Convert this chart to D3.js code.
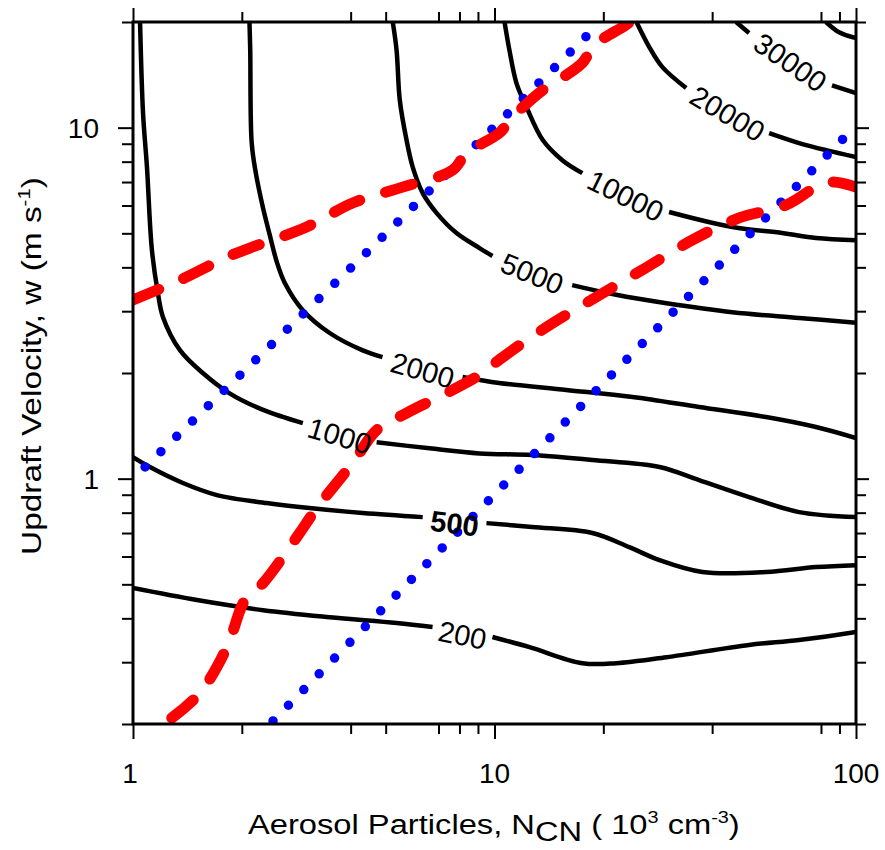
<!DOCTYPE html>
<html><head><meta charset="utf-8">
<script src="https://cdn.jsdelivr.net/npm/d3@7"></script>
<style>
body{margin:0;background:#fff}
text{font-family:"Liberation Sans",Arial,Helvetica,sans-serif;fill:#000}
</style>
</head><body>
<svg id="chart" width="885" height="850"></svg>
<script>
// ---------- data (N in 10^3 cm^-3, w in m/s) ----------
const xTickValues = [1,2,4,5,7,8,9,10,20,40,80,90,100];
const xMajorTicks = [1,10,100];
const yTickValues = [0.2,0.3,0.4,0.5,0.6,0.7,0.8,0.9,1,2,3,4,5,6,7,8,9,10,20];
const yMajorTicks = [1,10];

// contour lines; null marks the gap where the label sits
const contour200 = [[1,0.488],[1.503,0.451],[2.29,0.422],[3.50,0.403],[5.36,0.388],[6.74,0.378],null,
  [9.87,0.354],[12.5,0.331],[17.5,0.298],[21.7,0.298],[29.9,0.310],[50.6,0.336],[69.6,0.347],[100,0.366]];
const contour500 = [[1,1.152],[1.114,1.079],[1.374,0.972],[1.706,0.898],[2.345,0.852],[2.89,0.830],[4.32,0.798],[6.33,0.777],null,
  [9.50,0.747],[12.7,0.728],[18.65,0.70],[23.6,0.638],[28.6,0.586],[37.6,0.542],[56.4,0.542],[77.5,0.56],[100,0.567]];
const contour1000 = [[1.046,20],[1.066,11.0],[1.093,7.72],[1.128,4.48],[1.172,3.38],[1.21,2.89],[1.35,2.32],[1.56,2.00],[1.85,1.75],[2.29,1.57],[2.95,1.44],null,
  [4.72,1.27],[6.61,1.22],[9.09,1.18],[12.7,1.167],[18.65,1.13],[28.6,1.079],[36.8,0.99],[50.6,0.886],[69.6,0.803],[100,0.777]];
const contour2000 = [[2.10,20],[2.11,16.6],[2.13,9.04],[2.187,7.42],[2.286,5.94],[2.39,4.94],[2.50,4.14],[2.63,3.61],[2.95,3.02],[3.50,2.60],[4.32,2.32],[4.90,2.22],null,
  [8.16,1.948],[10.3,1.873],[15.8,1.789],[24.1,1.708],[36.8,1.60],[56.4,1.498],[77.5,1.403],[100,1.305]];
const contour5000 = [[5.23,20],[5.36,16.6],[5.47,11.98],[5.71,9.22],[5.94,7.72],[6.33,6.51],[6.92,5.71],[7.85,5.01],[9.09,4.54],[9.87,4.31],null,
  [16.4,3.56],[21.7,3.34],[29.9,3.16],[45.5,2.98],[69.6,2.87],[100,2.78]];
const contour10000 = [[10.66,20],[11.0,16.6],[11.5,13.4],[12.26,11.45],[13.6,9.22],[15.4,8.08],[17.5,7.42],null,
  [30.4,5.75],[45.5,5.21],[62.5,5.01],[77.5,4.85],[100,4.78]];
const contour20000 = [[24.7,20],[26.8,16.97],[29.1,14.9],[33.9,12.97],null,
  [57.5,9.65],[69.6,9.04],[82.6,8.63],[100,8.25]];
const contour30000 = [[46.6,20],[50.6,18.6],null,[85.8,13.2],[100,12.55]];
const contour50000 = [[82.6,20],[89.8,18.7],[100,18.0]];

const contourLines  = [contour200, contour500, contour1000, contour2000, contour5000, contour10000, contour20000, contour30000, contour50000];
const contourLabels = ["200","500","1000","2000","5000","10000","20000","30000",""];
const contourBold   = [false,true,false,false,false,false,false,false,false];

// red dashed curves
const redUpper = [[1,3.23],[1.35,3.68],[1.82,4.28],[2.105,4.54],[3.02,5.21],[4.05,6.10],[5.57,6.77],[7.66,7.57],[8.37,8.47],[10.3,9.65],[11.2,10.7],[13.6,12.8],[15.1,13.7],[17.5,15.3],[18.9,17.2],[22.9,19.5],[24,20.2]];
const redLower = [[1.28,0.208],[1.531,0.245],[1.82,0.331],[2.04,0.451],[2.29,0.504],[2.84,0.682],[3.24,0.830],[4.05,1.108],[4.72,1.375],[5.71,1.538],[7.66,1.789],[9.27,2.00],[10.3,2.18],[13.9,2.70],[19.1,3.29],[25.6,3.93],[35.2,4.78],[47.5,5.53],[64.1,6.02],[77.5,6.77],[85.8,7.00],[100,6.77]];
// blue dotted lines
const blueUpper = [[1.08,1.08],[4.5,4.48],[19.2,19.5]];
const blueLower = [[2.44,0.204],[15.7,1.45],[92,9.28]];

// ---------- drawing ----------
const svg = d3.select("#chart");
const x = d3.scaleLog().domain([1,100]).range([133,856]);
const y = d3.scaleLog().domain([0.2,20]).range([724,22]);

svg.append("defs").append("clipPath").attr("id","clip")
  .append("rect").attr("x",133).attr("y",22).attr("width",723).attr("height",702);

const plot = svg.append("g").attr("clip-path","url(#clip)");

const lineGen = d3.line().defined(d => d !== null)
  .x(d => x(d[0])).y(d => y(d[1])).curve(d3.curveCatmullRom.alpha(0.5));

// contours
contourLines.forEach((pts, i) => {
  plot.append("path").attr("d", lineGen(pts))
    .attr("fill","none").attr("stroke","#000").attr("stroke-width",4.5)
    .attr("stroke-linejoin","round").attr("stroke-linecap","butt");
  const gi = pts.indexOf(null);
  if (gi > 0 && contourLabels[i]) {
    const a = pts[gi-1], b = pts[gi+1];
    const ax = x(a[0]), ay = y(a[1]), bx = x(b[0]), by = y(b[1]);
    const mx = (ax+bx)/2, my = (ay+by)/2;
    const ang = Math.atan2(by-ay, bx-ax) * 180 / Math.PI;
    svg.append("text")
      .attr("transform", `translate(${mx},${my + 3}) rotate(${ang + 2})`)
      .attr("text-anchor","middle").attr("dy","0.36em")
      .attr("font-size",29)
      .attr("font-weight", contourBold[i] ? "bold" : "normal")
      .text(contourLabels[i]);
  }
});

const straight = d3.line().x(d => x(d[0])).y(d => y(d[1])).curve(d3.curveLinear);
// blue dotted
[blueUpper, blueLower].forEach(pts => {
  plot.append("path").attr("d", straight(pts))
    .attr("fill","none").attr("stroke","#0000ff").attr("stroke-width",9.5)
    .attr("stroke-linecap","round").attr("stroke-dasharray","0,22");
});
// red dashed
[redUpper, redLower].forEach(pts => {
  plot.append("path").attr("d", lineGen(pts))
    .attr("fill","none").attr("stroke","#ff0000").attr("stroke-width",11)
    .attr("stroke-linecap","round").attr("stroke-linejoin","round")
    .attr("stroke-dasharray","28,27");
});

// axes (ticks)
function styleAxis(g){
  g.select(".domain").remove();
  g.selectAll(".tick line").attr("stroke","#000").attr("stroke-width",2);
  g.selectAll("text").remove();
}
const isMajorX = v => xMajorTicks.includes(v);
const isMajorY = v => yMajorTicks.includes(v);

svg.append("g").attr("transform","translate(0,724)")
  .call(d3.axisBottom(x).tickValues(xTickValues).tickSize(10)).call(styleAxis)
  .selectAll(".tick line").attr("y2", d => isMajorX(d) ? 15 : 10);
svg.append("g").attr("transform","translate(0,22)")
  .call(d3.axisTop(x).tickValues(xTickValues).tickSize(10)).call(styleAxis)
  .selectAll(".tick line").attr("y2", d => isMajorX(d) ? -14 : -10);
svg.append("g").attr("transform","translate(133,0)")
  .call(d3.axisLeft(y).tickValues(yTickValues).tickSize(11)).call(styleAxis)
  .selectAll(".tick line").attr("x2", d => isMajorY(d) ? -15 : -11);
svg.append("g").attr("transform","translate(856,0)")
  .call(d3.axisRight(y).tickValues(yTickValues).tickSize(10)).call(styleAxis)
  .selectAll(".tick line").attr("x2", d => isMajorY(d) ? 13 : 10);

// frame
svg.append("rect").attr("x",133).attr("y",22).attr("width",723).attr("height",702)
  .attr("fill","none").attr("stroke","#000").attr("stroke-width",3);

// tick labels
svg.selectAll(".xlab").data(xMajorTicks).enter().append("text")
  .attr("x", d => x(d) - (d===1 ? 3 : 0)).attr("y", 783)
  .attr("text-anchor","middle").attr("font-size",28).text(d => d);
svg.selectAll(".ylab").data(yMajorTicks).enter().append("text")
  .attr("x", 99).attr("y", d => y(d)).attr("dy","0.36em")
  .attr("text-anchor","end").attr("font-size",28).text(d => d);

// axis titles
const xt = svg.append("text").attr("font-size",28);
xt.append("tspan").text("Aerosol Particles, N");
xt.append("tspan").attr("dy",7).text("CN");
xt.append("tspan").attr("dy",-7).text(" ( 10");
xt.append("tspan").attr("dy",-11).attr("font-size",17).text("3");
xt.append("tspan").attr("dy",11).text(" cm");
xt.append("tspan").attr("dy",-11).attr("font-size",17).text("-3");
xt.append("tspan").attr("dy",11).text(")");
{
  const w = xt.node().getBBox().width;
  const target = 492, s = target / w;
  xt.attr("transform", `translate(${494 - target/2},834) scale(${s},1)`);
}

const yt = svg.append("text").attr("font-size",28);
yt.append("tspan").text("Updraft Velocity, w (m s");
yt.append("tspan").attr("dy",-11).attr("font-size",17).text("-1");
yt.append("tspan").attr("dy",11).text(")");
{
  const w = yt.node().getBBox().width;
  const target = 378, s = target / w;
  yt.attr("transform", `translate(41,${366 + target/2}) rotate(-90) scale(${s},1)`);
}
</script>
</body></html>
